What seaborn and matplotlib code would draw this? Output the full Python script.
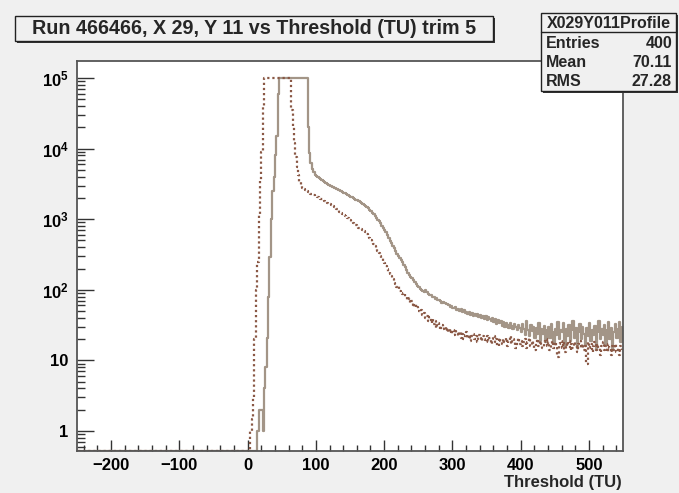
import numpy as np
import pandas as pd
import matplotlib
matplotlib.use("Agg")
import matplotlib.pyplot as plt
import seaborn as sns
from matplotlib.patches import Rectangle
from matplotlib.ticker import FixedLocator, MultipleLocator, NullFormatter

# ---------------- data ----------------
bin_lo, bin_hi, bin_w = -250, 550, 2
n_leading_zero_bins = 125          # bins from -250 to 0 are empty

# solid (grey) series: bin contents starting at bin [0,2)
solid_vals = [
    0, 0, 0, 0, 0, 0, 0, 1, 2, 2,
    2, 1, 4, 8, 21, 80, 295, 1000, 2500, 4000,
    8000, 15000, 60000, 1e5, 1e5, 1e5, 1e5, 1e5, 1e5, 1e5,
    1e5, 1e5, 1e5, 1e5, 1e5, 1e5, 1e5, 1e5, 1e5, 1e5,
    1e5, 1e5, 1e5, 1e5, 20000, 8700, 6300, 5100, 4600, 4250,
    4050, 3900, 3780, 3650, 3550, 3450, 3350, 3250, 3150, 3080,
    3000, 2930, 2870, 2800, 2740, 2680, 2620, 2560, 2500, 2440,
    2380, 2320, 2260, 2200, 2150, 2080, 2030, 1990, 1940, 1890,
    1840, 1790, 1740, 1690, 1640, 1590, 1540, 1480, 1420, 1360,
    1300, 1240, 1180, 1110, 1050, 990, 930, 870, 810, 760,
    705, 650, 590, 540, 495, 455, 420, 385, 350, 320,
    300, 280, 262, 245, 225, 208, 190, 175, 160, 150,
    145, 138, 128, 122, 114, 108, 104, 100, 96, 94,
    98, 92, 88, 84, 85, 80, 78, 74, 76, 72,
    72, 70, 66, 68, 64, 62, 63, 60, 58, 59,
    56, 55, 57, 52, 54, 50, 53, 49, 51, 47,
    48, 46, 49, 44, 47, 43, 46, 42, 45, 41,
    44, 40, 43, 39, 42, 37, 41, 38, 36, 40,
    35, 38, 33, 37, 34, 36, 31, 35, 30, 34,
    32, 29, 34, 31, 28, 33, 30, 27, 32, 29,
    25, 33, 28, 23, 36, 27, 22, 32, 26, 30,
    21, 29, 24, 34, 19, 28, 24, 31, 18, 27,
    30, 21, 33, 25, 17, 28, 23, 35, 20, 27,
    25, 34, 16, 28, 22, 32, 19, 27, 36, 21,
    29, 15, 25, 33, 20, 30, 24, 16, 29, 22,
    34, 19, 27, 23, 31, 14, 25, 36, 20, 28,
    23, 32, 17, 27, 35, 20, 29, 14, 25, 33,
    21, 28, 35, 18, 30,
]

# dotted (brown) series: bin contents starting at bin [0,2)
dotted_vals = [
    0, 0, 1, 1.5, 3, 20, 100, 250, 1200, 3500,
    9000, 40000, 1e5, 1e5, 1e5, 1e5, 1e5, 1e5, 1e5, 1e5,
    1e5, 1e5, 1e5, 1e5, 1e5, 1e5, 1e5, 1e5, 1e5, 1e5,
    1e5, 1e5, 35000, 20000, 12000, 7500, 5500, 4200, 3400, 3000,
    2750, 2650, 2560, 2480, 2410, 2350, 2290, 2230, 2180, 2130,
    2110, 2060, 2010, 1960, 1910, 1860, 1810, 1760, 1710, 1660,
    1620, 1575, 1530, 1480, 1430, 1380, 1330, 1285, 1240, 1195,
    1150, 1110, 1070, 1030, 995, 960, 925, 890, 855, 820,
    790, 760, 735, 715, 700, 690, 655, 620, 585, 550,
    515, 480, 450, 420, 390, 355, 330, 300, 285, 255,
    240, 215, 195, 180, 165, 155, 140, 125, 120, 108,
    112, 96, 92, 86, 90, 78, 80, 72, 76, 64,
    70, 58, 62, 55, 57, 50, 48, 52, 44, 47,
    40, 43, 36, 41, 34, 38, 33, 36, 29, 34,
    31, 27, 32, 28, 30, 26, 29, 25, 28, 24,
    27, 23, 26, 24, 22, 25, 21, 24, 20, 23,
    25, 21, 23, 19, 22, 24, 20, 22, 18, 23,
    21, 19, 22, 20, 18, 22, 19, 21, 17, 20,
    22, 18, 20, 16, 21, 19, 17, 20, 18, 21,
    16, 19, 22, 17, 20, 18, 15, 19, 21, 17,
    19, 16, 18, 20, 15, 18, 21, 16, 19, 17,
    14, 18, 20, 16, 19, 17, 15, 18, 20, 16,
    18, 14, 17, 19, 15, 18, 16, 11, 17, 19,
    15, 18, 13, 17, 16, 19, 14, 17, 15, 18,
    16, 13, 17, 19, 15, 17, 14, 16, 9, 18,
    15, 17, 13, 16, 18, 14, 17, 15, 12, 16,
    18, 14, 16, 13, 17, 15, 12, 16, 14, 17,
    13, 15, 12, 16, 14,
]

title_text = "Run 466466, X 29, Y 11 vs Threshold (TU) trim 5"
stats_name = "X029Y011Profile"
stats_rows = [("Entries", "400"), ("Mean", "70.11"), ("RMS", "27.28")]
x_label = "Threshold (TU)"
y_tick_vals = [1, 10, 100, 1000, 10000, 100000]
y_tick_labels = ["1", "10", r"$10^{2}$", r"$10^{3}$", r"$10^{4}$", r"$10^{5}$"]
x_tick_vals = [-200, -100, 0, 100, 200, 300, 400, 500]

# ---------------- style ----------------
W, H = 679, 493
BG = "#f0f0f0"
SOLID_C = "#a39587"
DOT_C = "#8a5845"
FRAME_C = "#555555"

sns.set_theme(style="white")
plt.rcParams['font.family'] = ['Liberation Sans', 'DejaVu Sans']
plt.rcParams['font.weight'] = 'bold'
plt.rcParams['mathtext.fontset'] = 'custom'
plt.rcParams['mathtext.rm'] = 'Liberation Sans:bold'
plt.rcParams['mathtext.it'] = 'Liberation Sans:bold'
plt.rcParams['mathtext.bf'] = 'Liberation Sans:bold'

edges = np.arange(bin_lo, bin_hi + bin_w, bin_w)
centers = (edges[:-1] + edges[1:]) / 2.0
solid = np.concatenate([np.zeros(n_leading_zero_bins), np.array(solid_vals, float)])
dotted = np.concatenate([np.zeros(n_leading_zero_bins), np.array(dotted_vals, float)])
assert len(solid) == len(centers) and len(dotted) == len(centers)

YMIN, YMAX = 0.521, 1.74e5
df = pd.DataFrame({
    "x": centers,
    "solid": np.where(solid > 0, solid, YMIN),
    "dotted": np.where(dotted > 0, dotted, YMIN),
})

def fx(px):
    return px / W

def fy(py):
    return 1 - py / H

fig = plt.figure(figsize=(W / 100, H / 100), dpi=100, facecolor=BG)
ax_l, ax_r, ax_t, ax_b = 77, 623, 61, 451
ax = fig.add_axes([fx(ax_l), fy(ax_b), fx(ax_r - ax_l), (ax_b - ax_t) / H])
ax.set_facecolor("white")

sns.lineplot(data=df, x="x", y="solid", ax=ax, drawstyle="steps-mid",
             color=SOLID_C, linewidth=1.6, estimator=None, sort=False)
sns.lineplot(data=df, x="x", y="dotted", ax=ax, drawstyle="steps-mid",
             color=DOT_C, linewidth=1.6, linestyle=(0, (1, 1.3)),
             estimator=None, sort=False)

ax.set_yscale("log")
ax.set_xlim(bin_lo, bin_hi)
ax.set_ylim(YMIN, YMAX)
ax.set_xlabel("")
ax.set_ylabel("")

ax.set_yticks(y_tick_vals)
ax.set_yticklabels(y_tick_labels)
minor_y = [m * 10.0 ** d for d in range(-1, 6) for m in range(2, 10)]
ax.yaxis.set_minor_locator(FixedLocator(minor_y))
ax.yaxis.set_minor_formatter(NullFormatter())
ax.set_xticks(x_tick_vals)
ax.xaxis.set_minor_locator(MultipleLocator(20))

ax.tick_params(axis="both", which="both", direction="in", colors="#333333",
               labelcolor="black", labelsize=12)
ax.tick_params(axis="y", which="major", length=12, width=1.0, pad=6, left=True, right=False)
ax.tick_params(axis="y", which="minor", length=6, width=1.0, left=True, right=False)
ax.tick_params(axis="x", which="major", length=8, width=1.0, pad=5, bottom=True, top=False)
ax.tick_params(axis="x", which="minor", length=4, width=1.0, bottom=True, top=False)
for lab in ax.get_xticklabels() + ax.get_yticklabels():
    lab.set_fontweight("bold")

for sp in ax.spines.values():
    sp.set_visible(True)
    sp.set_color(FRAME_C)
    sp.set_linewidth(1.3)

fig.text(fx(622), fy(483), x_label, ha="right", va="center",
         fontsize=12, fontweight="bold")

# title box with shadow
def box(l, t, r, b, face, shadow=2):
    fig.add_artist(Rectangle((fx(l + shadow), fy(b + shadow)), fx(r - l), (b - t) / H,
                             transform=fig.transFigure, facecolor="#333333",
                             edgecolor="none", zorder=5))
    fig.add_artist(Rectangle((fx(l), fy(b)), fx(r - l), (b - t) / H,
                             transform=fig.transFigure, facecolor=face,
                             edgecolor="#222222", linewidth=1.0, zorder=6))

box(15, 16, 493, 41, BG)
fig.text(fx((15 + 493) / 2), fy(29), title_text, ha="center", va="center",
         fontsize=14.2, fontweight="bold", zorder=7)

# stats box
sl, st, sr, sb = 541, 13, 676, 91
box(sl, st, sr, sb, BG, shadow=2)
fig.add_artist(plt.Line2D([fx(sl), fx(sr)], [fy(32), fy(32)], transform=fig.transFigure,
                          color="#222222", linewidth=1.0, zorder=7))
fig.text(fx((sl + sr) / 2), fy(23), stats_name, ha="center", va="center",
         fontsize=11.5, fontweight="bold", zorder=7)
for i, (k, v) in enumerate(stats_rows):
    yy = 43 + i * 19.5
    fig.text(fx(546), fy(yy), k, ha="left", va="center", fontsize=11.5,
             fontweight="bold", zorder=7)
    fig.text(fx(672), fy(yy), v, ha="right", va="center", fontsize=11.5,
             fontweight="bold", zorder=7)

fig.savefig("out.png", dpi=100, facecolor=BG)
